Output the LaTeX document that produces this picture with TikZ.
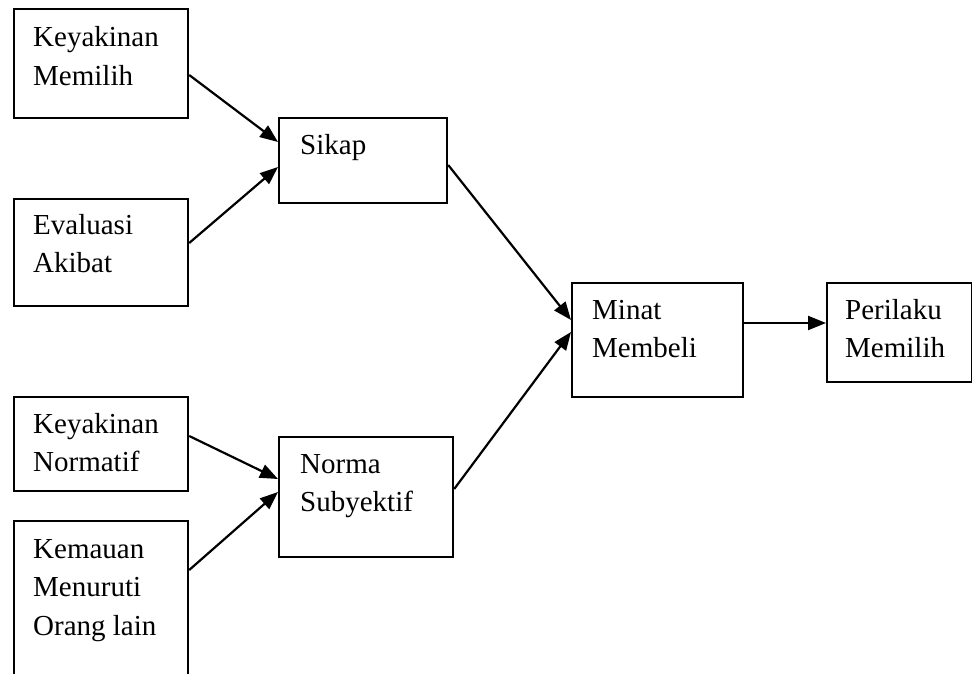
\documentclass[tikz,border=0pt]{standalone}
\usepackage{fontspec}
\setmainfont{Liberation Serif}
\usetikzlibrary{arrows.meta}
\newcommand\stacklines[1]{\vtop{\halign{##\hfil\cr#1\crcr}}}
\begin{document}
\begin{tikzpicture}[x=1pt,y=-1pt,
  box/.style={draw, line width=2.2pt, rectangle, inner sep=0pt, anchor=north west},
  lbl/.style={anchor=base west, inner sep=0pt, font=\fontsize{29pt}{38.5pt}\selectfont},
  conn/.style={line width=2.2pt, -{Triangle[length=18pt,width=14pt]}}]
\clip (0,0) rectangle (972,674);
\useasboundingbox (0,0) rectangle (972,674);
% boxes
\node[box, minimum width=174pt, minimum height=109pt] (b1) at (13,8) {};
\node[box, minimum width=174pt, minimum height=107pt] (b2) at (13,198) {};
\node[box, minimum width=168pt, minimum height=85pt] (sikap) at (278,117) {};
\node[box, minimum width=171pt, minimum height=114pt] (minat) at (571,282) {};
\node[box, minimum width=145pt, minimum height=99pt] (perilaku) at (826,282) {};
\node[box, minimum width=174pt, minimum height=94pt] (b3) at (13,396) {};
\node[box, minimum width=174pt, minimum height=190pt] (b4) at (13,520) {};
\node[box, minimum width=174pt, minimum height=120pt] (norma) at (278,436) {};
% labels
\node[lbl] (t1) at (33,47) {\stacklines{Keyakinan\cr Memilih}};
\node[lbl] (t2) at (33,234) {\stacklines{Evaluasi\cr Akibat}};
\node[lbl] (t3) at (300,155) {Sikap};
\node[lbl] (t4) at (592,319) {\stacklines{Minat\cr Membeli}};
\node[lbl] (t5) at (845,319) {\stacklines{Perilaku\cr Memilih}};
\node[lbl] (t6) at (33,433) {\stacklines{Keyakinan\cr Normatif}};
\node[lbl] (t7) at (33,558) {\stacklines{Kemauan\cr Menuruti\cr Orang lain}};
\node[lbl] (t8) at (300,473) {\stacklines{Norma\cr Subyektif}};
% connectors
\draw[conn] ([yshift=-67pt]b1.north east) -- ([yshift=-25pt]sikap.north west);
\draw[conn] ([yshift=-45pt]b2.north east) -- ([yshift=-50pt]sikap.north west);
\draw[conn] ([yshift=-48pt]sikap.north east) -- ([yshift=-38pt]minat.north west);
\draw[conn] ([yshift=-53pt]norma.north east) -- ([yshift=-50pt]minat.north west);
\draw[conn] ([yshift=-40pt]b3.north east) -- ([yshift=-43pt]norma.north west);
\draw[conn] ([yshift=-50pt]b4.north east) -- ([yshift=-56pt]norma.north west);
\draw[conn] ([yshift=-41pt]minat.north east) -- ([yshift=-41pt]perilaku.north west);
\end{tikzpicture}
\end{document}
